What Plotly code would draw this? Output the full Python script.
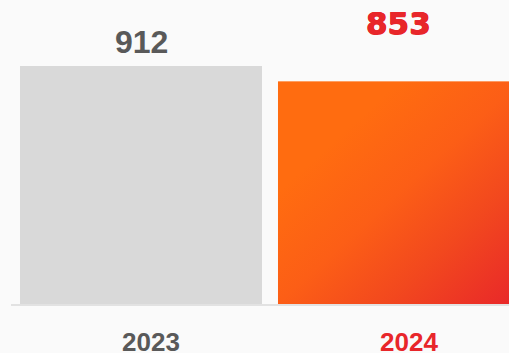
import base64
import plotly.graph_objects as go

# --- data ---
years = ["2023", "2024"]
values = [912, 853]

# --- styling ---
BG = "#fafafa"
GRAY_BAR = "#d9d9d9"
GRAY_TEXT = "#595959"
RED_TEXT = "#e8262a"
ORANGE = "#ff6c10"
BAR_WIDTH = 0.938

x_pos = list(range(len(years)))

fig = go.Figure()

# plain bars (the 2024 bar gets a gradient skin on top)
fig.add_trace(go.Bar(
    x=x_pos,
    y=values,
    width=BAR_WIDTH,
    marker=dict(color=[GRAY_BAR, ORANGE], line=dict(width=0)),
    hoverinfo="skip",
))

# diagonal orange -> red gradient for the highlighted bar
grad_svg = (
    "<svg xmlns='http://www.w3.org/2000/svg' width='100' height='100' "
    "viewBox='0 0 100 100' preserveAspectRatio='none'>"
    "<defs><linearGradient id='g' x1='0' y1='0' x2='1' y2='1'>"
    "<stop offset='0' stop-color='#ff6c10'/>"
    "<stop offset='0.25' stop-color='#ff6c10'/>"
    "<stop offset='0.5' stop-color='#fc5e16'/>"
    "<stop offset='0.72' stop-color='#f2481e'/>"
    "<stop offset='1' stop-color='#e8262a'/>"
    "</linearGradient></defs>"
    "<rect x='0' y='0' width='100' height='100' fill='url(#g)'/></svg>"
)
grad_src = "data:image/svg+xml;base64," + base64.b64encode(grad_svg.encode()).decode()
fig.add_layout_image(
    source=grad_src,
    xref="x", yref="y",
    x=x_pos[1] - BAR_WIDTH / 2, y=values[1],
    sizex=BAR_WIDTH, sizey=values[1],
    xanchor="left", yanchor="top",
    sizing="stretch", layer="above",
)

# value labels above the bars
red_outline = "0.5px 0 0 #e8262a, -0.5px 0 0 #e8262a, 0 0.5px 0 #e8262a"
label_fonts = [
    dict(family="Liberation Sans, Arial, sans-serif", size=32, color=GRAY_TEXT, weight="bold"),
    dict(family="DejaVu Sans, sans-serif", size=31, color=RED_TEXT, weight="bold",
         shadow=red_outline),
]
label_yshift = [4, 38]
for xi, v, f, ys in zip(x_pos, values, label_fonts, label_yshift):
    fig.add_annotation(
        x=xi, y=v, text=str(v), showarrow=False,
        xanchor="center", yanchor="bottom", yshift=ys, font=f,
    )

# category labels under the axis
year_colors = [GRAY_TEXT, RED_TEXT]
for xi, yr, c in zip(x_pos, years, year_colors):
    fig.add_annotation(
        x=xi, y=0, text=yr, showarrow=False,
        xanchor="center", yanchor="top", xshift=10, yshift=-21,
        font=dict(family="Liberation Sans, Arial, sans-serif", size=26, color=c, weight="bold"),
    )

fig.update_layout(
    width=509, height=353,
    margin=dict(l=11, r=0, t=0, b=49),
    paper_bgcolor=BG, plot_bgcolor=BG,
    showlegend=False,
    xaxis=dict(
        range=[-0.5039, 1.4264], showgrid=False, zeroline=False,
        showticklabels=False, ticks="",
        showline=True, linecolor="#e2e2e2", linewidth=2,
        fixedrange=True,
    ),
    yaxis=dict(
        range=[0, 1164.9], showgrid=False, zeroline=False,
        showticklabels=False, ticks="", showline=False, fixedrange=True,
    ),
)

fig.write_html("out.html", config=dict(displayModeBar=False))
